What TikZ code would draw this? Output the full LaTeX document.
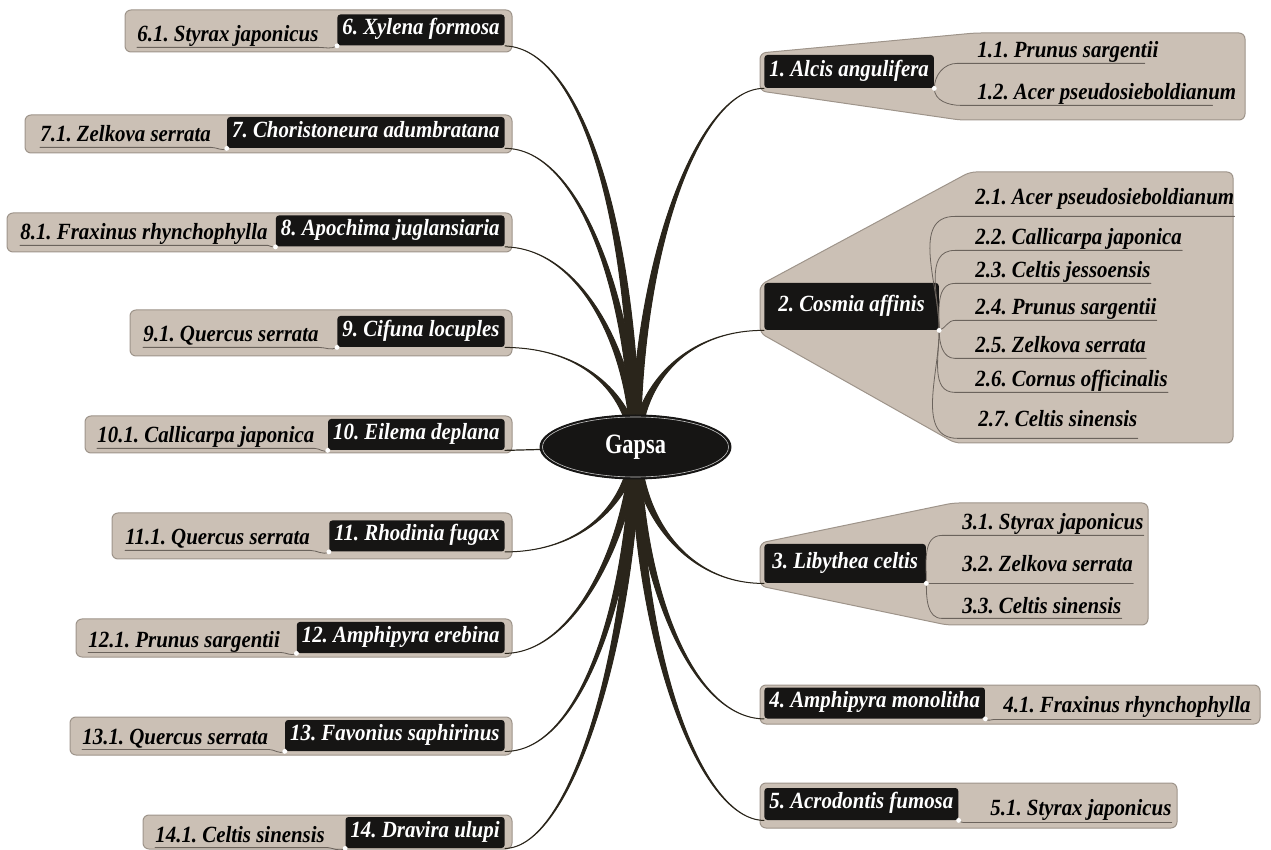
\documentclass[tikz,border=0pt]{standalone}
\usepackage{fontspec}
\setmainfont{Liberation Serif}
\newfontfamily\narrowface[FakeStretch=0.9]{Liberation Serif}
\newfontfamily\hubface[FakeStretch=0.8]{Liberation Serif}
\usetikzlibrary{calc,shapes.geometric}
\definecolor{ccbbaa}{rgb}{0.796,0.753,0.71}
\definecolor{aa9988}{rgb}{0.62,0.58,0.54}
\definecolor{qqqqqq}{rgb}{0.086,0.082,0.078}
\definecolor{ttsszz}{rgb}{0.165,0.145,0.106}
\definecolor{uu6655}{rgb}{0.42,0.39,0.36}
\frenchspacing
\tikzset{
  pane/.style={fill=ccbbaa,draw=aa9988,line width=0.5pt,rounded corners=3pt},
  moth/.style={fill=qqqqqq,text=white,rounded corners=1.5pt,inner xsep=2.5pt,inner ysep=0pt,minimum height=15.5pt,text height=7.6pt,text depth=2.7pt,font=\narrowface\fontsize{11.6}{13}\selectfont\bfseries\itshape},
  host/.style={anchor=base west,inner sep=0pt,text depth=2.5pt,font=\narrowface\fontsize{11.6}{13}\selectfont\bfseries\itshape},
  branch/.style={fill=ttsszz,draw=ttsszz,line width=0.5pt},
  twig/.style={draw=uu6655,line width=0.4pt},
  knot/.style={fill=white,draw=none}
}
\begin{document}
\begin{tikzpicture}[line cap=round,line join=round,x=0.5pt,y=-0.5pt]
\useasboundingbox (0,0) rectangle (1271,850);
\coordinate (hub) at (635.5,447);
% panes
\draw[pane] (125,10) rectangle (512,52);
\draw[pane] (25,115) rectangle (512,153);
\draw[pane] (7,213) rectangle (512,252);
\draw[pane] (130,310) rectangle (512,356);
\draw[pane] (85,416) rectangle (512,453);
\draw[pane] (112,513) rectangle (512,559);
\draw[pane] (76,619) rectangle (512,657);
\draw[pane] (70,717) rectangle (512,755);
\draw[pane] (143,815) rectangle (512,849);
\draw[pane] (760,53) -- (975,33) -- (1245,33) -- (1245,120) -- (960,120) -- (760,91) -- cycle;
\draw[pane] (760,285) -- (970,172) -- (1233,172) -- (1233,443) -- (955,443) -- (760,333) -- cycle;
\draw[pane] (760,543) -- (953,503) -- (1148,503) -- (1148,625) -- (947,625) -- (760,586) -- cycle;
\draw[pane] (760,685) rectangle (1260,724);
\draw[pane] (760,783) rectangle (1177,828);
% moths
\node[moth,anchor=east] (m6) at (505,30) {6. Xylena formosa};
\node[moth,anchor=east] (m7) at (505,132.5) {7. Choristoneura adumbratana};
\node[moth,anchor=east] (m8) at (505,231) {8. Apochima juglansiaria};
\node[moth,anchor=east] (m9) at (505,331.5) {9. Cifuna locuples};
\node[moth,anchor=east] (m10) at (505,434.5) {10. Eilema deplana};
\node[moth,anchor=east] (m11) at (505,536) {11. Rhodinia fugax};
\node[moth,anchor=east] (m12) at (505,637.5) {12. Amphipyra erebina};
\node[moth,anchor=east] (m13) at (505,735.5) {13. Favonius saphirinus};
\node[moth,anchor=east] (m14) at (505,832.5) {14. Dravira ulupi};
\node[moth,anchor=west,minimum height=16.5pt] (m1) at (764,71.5) {1. Alcis angulifera};
\node[moth,anchor=west,minimum height=23.5pt,inner xsep=7pt] (m2) at (764,306.5) {2. Cosmia affinis};
\node[moth,anchor=west,minimum height=19.5pt,inner xsep=4pt] (m3) at (764,563.5) {3. Libythea celtis};
\node[moth,anchor=west] (m4) at (764,703) {4. Amphipyra monolitha};
\node[moth,anchor=west,minimum height=16pt] (m5) at (764,804) {5. Acrodontis fumosa};
% hosts
\node[host] (h61) at (137,42) {6.1. Styrax japonicus};
\node[host] (h71) at (40,142) {7.1. Zelkova serrata};
\node[host] (h81) at (20,240) {8.1. Fraxinus rhynchophylla};
\node[host] (h91) at (143,342) {9.1. Quercus serrata};
\node[host] (h101) at (97,443) {10.1. Callicarpa japonica};
\node[host] (h111) at (125,545) {11.1. Quercus serrata};
\node[host] (h121) at (88,647) {12.1. Prunus sargentii};
\node[host] (h131) at (82,744) {13.1. Quercus serrata};
\node[host] (h141) at (155,842) {14.1. Celtis sinensis};
\node[host] (h11) at (977,58) {1.1. Prunus sargentii};
\node[host] (h12) at (977,100) {1.2. Acer pseudosieboldianum};
\node[host] (h21) at (975,205) {2.1. Acer pseudosieboldianum};
\node[host] (h22) at (975,245) {2.2. Callicarpa japonica};
\node[host] (h23) at (975,278) {2.3. Celtis jessoensis};
\node[host] (h24) at (975,315) {2.4. Prunus sargentii};
\node[host] (h25) at (975,353) {2.5. Zelkova serrata};
\node[host] (h26) at (975,387) {2.6. Cornus officinalis};
\node[host] (h27) at (978,427) {2.7. Celtis sinensis};
\node[host] (h31) at (962,530) {3.1. Styrax japonicus};
\node[host] (h32) at (962,572) {3.2. Zelkova serrata};
\node[host] (h33) at (962,613) {3.3. Celtis sinensis};
\node[host] (h41) at (1003,712) {4.1. Fraxinus rhynchophylla};
\node[host] (h51) at (990,815) {5.1. Styrax japonicus};
% underlines
\draw[twig] (m6.south west) to[out=-150,in=0] (h61.south east) -- (h61.south west);
\draw[twig] (m7.south west) to[out=-150,in=0] (h71.south east) -- (h71.south west);
\draw[twig] (m8.south west) to[out=-150,in=0] (h81.south east) -- (h81.south west);
\draw[twig] (m9.south west) to[out=-150,in=0] (h91.south east) -- (h91.south west);
\draw[twig] (m10.south west) to[out=-150,in=0] (h101.south east) -- (h101.south west);
\draw[twig] (m11.south west) to[out=-150,in=0] (h111.south east) -- (h111.south west);
\draw[twig] (m12.south west) to[out=-150,in=0] (h121.south east) -- (h121.south west);
\draw[twig] (m13.south west) to[out=-150,in=0] (h131.south east) -- (h131.south west);
\draw[twig] (m14.south west) to[out=-150,in=0] (h141.south east) -- (h141.south west);
\draw[twig] (m1.south east) to[out=90,in=180] ([xshift=-10pt]h11.south west) -- ([xshift=-7pt]h11.south east);
\draw[twig] (m1.south east) to[out=-90,in=180] ([xshift=-8pt]h12.south west) -- ([xshift=-12pt]h12.south east);
\draw[twig] (m2.south east) to[out=90,in=180] ([xshift=-10pt,yshift=-3pt]h21.south west) -- ([yshift=-3pt]h21.south east);
\draw[twig] (m2.south east) to[out=90,in=180] ([xshift=-10pt]h22.south west) -- (h22.south east);
\draw[twig] (m2.south east) to[out=90,in=180] ([xshift=-10pt]h23.south west) -- (h23.south east);
\draw[twig] (m2.south east) to[out=20,in=180] ([xshift=-10pt]h24.south west) -- (h24.south east);
\draw[twig] (m2.south east) to[out=-90,in=180] ([xshift=-10pt]h25.south west) -- (h25.south east);
\draw[twig] (m2.south east) to[out=-90,in=180] ([xshift=-10pt]h26.south west) -- (h26.south east);
\draw[twig] (m2.south east) to[out=-90,in=180] ([xshift=-10pt,yshift=-3pt]h27.south west) -- ([yshift=-3pt]h27.south east);
\draw[twig] (m3.south east) to[out=90,in=180] ([xshift=-10pt]h31.south west) -- (h31.south east);
\draw[twig] (m3.south east) -- (h32.south east |- m3.south east);
\draw[twig] (m3.south east) to[out=-90,in=180] ([xshift=-10pt]h33.south west) -- (h33.south east);
\draw[twig] (m4.south east) to[out=-45,in=180] ([xshift=-4pt,yshift=-1pt]h41.south west) -- ([yshift=-1pt]h41.south east);
\draw[twig] (m5.south east) to[out=-45,in=180] ([xshift=-10pt,yshift=-1pt]h51.south west) -- ([yshift=-1pt]h51.south east);
% knots
\fill[knot] (m6.south west) circle (1.2pt);
\fill[knot] (m7.south west) circle (1.2pt);
\fill[knot] (m8.south west) circle (1.2pt);
\fill[knot] (m9.south west) circle (1.2pt);
\fill[knot] (m10.south west) circle (1.2pt);
\fill[knot] (m11.south west) circle (1.2pt);
\fill[knot] (m12.south west) circle (1.2pt);
\fill[knot] (m13.south west) circle (1.2pt);
\fill[knot] (m14.south west) circle (1.2pt);
\fill[knot] (m1.south east) circle (1.2pt);
\fill[knot] (m2.south east) circle (1.2pt);
\fill[knot] (m3.south east) circle (1.2pt);
\fill[knot] (m4.south east) circle (1.2pt);
\fill[knot] (m5.south east) circle (1.2pt);
% branches
\filldraw[branch] ($(hub)+(-5,0)$) .. controls (629,200) and (575,48) .. (m6.south east) .. controls (575,48) and (635,200) .. ($(hub)+(5,0)$) -- cycle;
\filldraw[branch] ($(hub)+(-5,0)$) .. controls (629,300) and (580,148) .. (m7.south east) .. controls (580,148) and (635,300) .. ($(hub)+(5,0)$) -- cycle;
\filldraw[branch] ($(hub)+(-5,0)$) .. controls (629,350) and (580,248) .. (m8.south east) .. controls (580,248) and (635,350) .. ($(hub)+(5,0)$) -- cycle;
\filldraw[branch] ($(hub)+(-5,0)$) .. controls (627,400) and (590,348) .. (m9.south east) .. controls (590,348) and (633,400) .. ($(hub)+(5,0)$) -- cycle;
\draw[twig,draw=ttsszz,line width=0.6pt] (m10.south east) -- (hub);
\filldraw[branch] ($(hub)+(-5,0)$) .. controls (627,500) and (585,552) .. (m11.south east) .. controls (585,552) and (633,500) .. ($(hub)+(5,0)$) -- cycle;
\filldraw[branch] ($(hub)+(-5,0)$) .. controls (625,540) and (575,653) .. (m12.south east) .. controls (575,653) and (631,540) .. ($(hub)+(5,0)$) -- cycle;
\filldraw[branch] ($(hub)+(-5,0)$) .. controls (627,600) and (580,752) .. (m13.south east) .. controls (580,752) and (633,600) .. ($(hub)+(5,0)$) -- cycle;
\filldraw[branch] ($(hub)+(-5,0)$) .. controls (629,650) and (570,848) .. (m14.south east) .. controls (570,848) and (635,650) .. ($(hub)+(5,0)$) -- cycle;
\filldraw[branch] ($(hub)+(-5,0)$) .. controls (635,250) and (700,88) .. (m1.south west) .. controls (700,88) and (641,250) .. ($(hub)+(5,0)$) -- cycle;
\filldraw[branch] ($(hub)+(-5,0)$) .. controls (637,380) and (690,330) .. (m2.south west) .. controls (690,330) and (643,380) .. ($(hub)+(5,0)$) -- cycle;
\filldraw[branch] ($(hub)+(-5,0)$) .. controls (637,520) and (690,584) .. (m3.south west) .. controls (690,584) and (643,520) .. ($(hub)+(5,0)$) -- cycle;
\filldraw[branch] ($(hub)+(-5,0)$) .. controls (637,580) and (690,718) .. (m4.south west) .. controls (690,718) and (643,580) .. ($(hub)+(5,0)$) -- cycle;
\filldraw[branch] ($(hub)+(-5,0)$) .. controls (635,650) and (700,820) .. (m5.south west) .. controls (700,820) and (641,650) .. ($(hub)+(5,0)$) -- cycle;
% centre
\node[ellipse,fill=qqqqqq,draw=qqqqqq,line width=0.5pt,minimum width=95.5pt,minimum height=32pt,inner sep=0pt,text=white,font=\hubface\fontsize{14}{16}\selectfont\bfseries] (gapsa) at (hub) {Gapsa};
\draw[gray!45,line width=0.3pt] (hub) ellipse (46.5pt and 15pt);
\end{tikzpicture}
\end{document}
